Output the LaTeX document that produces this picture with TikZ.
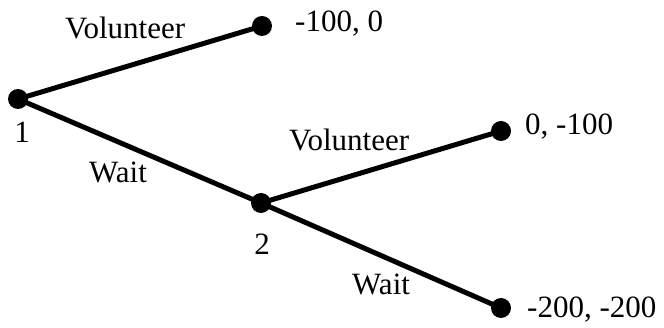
\documentclass[tikz,border=0pt]{standalone}
\usepackage{fontspec}
\setmainfont{Liberation Serif}
\begin{document}
\begin{tikzpicture}[x=1pt,y=-1pt,
  dot/.style={circle,fill=black,inner sep=0pt,minimum size=20pt},
  edge/.style={line width=5pt},
  lbl/.style={inner sep=0pt,font=\fontsize{31}{36}\selectfont}]
\useasboundingbox[fill=white] (0,0) rectangle (664,328);
\node[dot] (n1) at (18,99) {};
\node[dot] (l1) at (262,26) {};
\node[dot] (n2) at (261,203) {};
\node[dot] (l2) at (501,131) {};
\node[dot] (l3) at (501,308) {};
\draw[edge] (n1.center) -- (l1.center);
\draw[edge] (n1.center) -- (n2.center);
\draw[edge] (n2.center) -- (l2.center);
\draw[edge] (n2.center) -- (l3.center);
\node[lbl,anchor=base west] (v1) at (65,39) {Volunteer};
\node[lbl,anchor=base west] (p1) at (295,32) {-100, 0};
\node[lbl,anchor=base] (t1) at (22,143) {1};
\node[lbl,anchor=base] (w1) at (118,183) {Wait};
\node[lbl,anchor=base west] (v2) at (289,151) {Volunteer};
\node[lbl,anchor=base west] (p2) at (525,135) {0, -100};
\node[lbl,anchor=base] (t2) at (262,255) {2};
\node[lbl,anchor=base west] (w2) at (352,295) {Wait};
\node[lbl,anchor=base west] (p3) at (527,318) {-200, -200};
\end{tikzpicture}
\end{document}
